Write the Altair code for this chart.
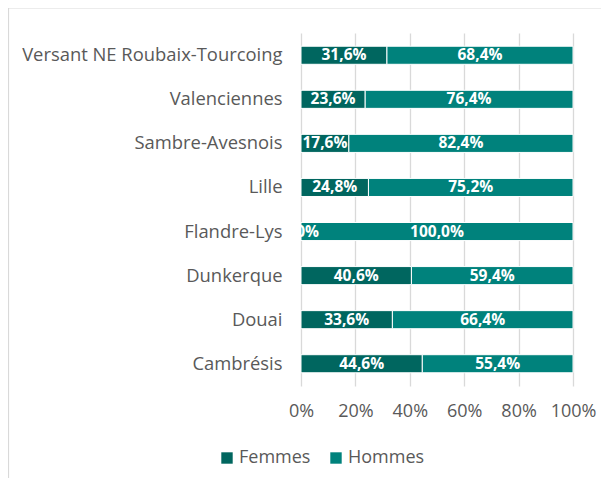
import altair as alt
import pandas as pd

regions = ["Versant NE Roubaix-Tourcoing", "Valenciennes", "Sambre-Avesnois", "Lille",
           "Flandre-Lys", "Dunkerque", "Douai", "Cambrésis"]
femmes = [31.6, 23.6, 17.6, 24.8, 0.0, 40.6, 33.6, 44.6]
hommes = [68.4, 76.4, 82.4, 75.2, 100.0, 59.4, 66.4, 55.4]
series = ["Femmes", "Hommes"]
colors = ["#00665F", "#00827C"]
x_ticks = [0, 0.2, 0.4, 0.6, 0.8, 1.0]

rows = []
for r, f, h in zip(regions, femmes, hommes):
    rows.append({"region": r, "sexe": "Femmes", "o": 0, "v": f})
    rows.append({"region": r, "sexe": "Hommes", "o": 1, "v": h})
df = pd.DataFrame(rows)

FONT = "Open Sans"
GREY = "#595959"
FS = 18

base = alt.Chart(df).transform_stack(
    stack="v", groupby=["region"], as_=["x0", "x1"],
    sort=[alt.SortField("o", order="ascending")], offset="normalize"
).transform_calculate(
    mid="(datum.x0 + datum.x1) / 2",
    lab="replace(format(datum.v, '.1f'), '.', ',') + '%'"
)

y_enc = alt.Y("region:N", sort=regions, title=None,
              scale=alt.Scale(paddingInner=0.59, paddingOuter=0.3),
              axis=alt.Axis(domain=False, ticks=False, labelFontSize=18.4, labelColor=GREY,
                            labelFont=FONT, labelPadding=19, labelLimit=400))

bars = base.mark_bar(stroke="white", strokeWidth=1).encode(
    x=alt.X("x0:Q", title=None, scale=alt.Scale(domain=[0, 1], nice=False),
            axis=alt.Axis(values=x_ticks, format=".0%", domain=False, ticks=False,
                          labelFontSize=FS, labelColor=GREY, labelFont=FONT,
                          labelOverlap=False, labelFlush=False, labelBound=False,
                          labelPadding=16, grid=True, gridColor="#D9D9D9",
                          gridWidth=1.3)),
    x2="x1:Q",
    y=y_enc,
    color=alt.Color("sexe:N", scale=alt.Scale(domain=series, range=colors),
                    legend=alt.Legend(title=None, orient="none", direction="horizontal",
                                      legendX=-83, legendY=416,
                                      symbolType="square", symbolSize=130,
                                      symbolStrokeWidth=0, labelFontSize=FS,
                                      labelColor=GREY, labelFont=FONT,
                                      columnPadding=16, labelOffset=3)),
)

labels = base.mark_text(color="white", fontWeight="bold", fontSize=15.5, font=FONT,
                        clip=True, baseline="middle").encode(
    x="mid:Q",
    y=alt.Y("region:N", sort=regions),
    text="lab:N",
)

border = alt.Chart(pd.DataFrame({"k": [0]})).mark_rule(color="#D9D9D9", strokeWidth=1.2).encode(
    x=alt.value(-292.5), x2=alt.value(300), y=alt.value(-25), y2=alt.value(-25)
) + alt.Chart(pd.DataFrame({"k": [0]})).mark_rule(color="#D9D9D9", strokeWidth=1.2).encode(
    x=alt.value(-292.5), x2=alt.value(-292.5), y=alt.value(-25), y2=alt.value(460)
)

chart = alt.layer(bars, labels, border).properties(
    width=272, height=353,
    autosize=alt.AutoSizeParams(type="none"),
    padding={"left": 293, "top": 25, "right": 28, "bottom": 92},
).configure_view(stroke=None)

chart.save("out.html", embed_options={"renderer": "svg", "actions": False})
